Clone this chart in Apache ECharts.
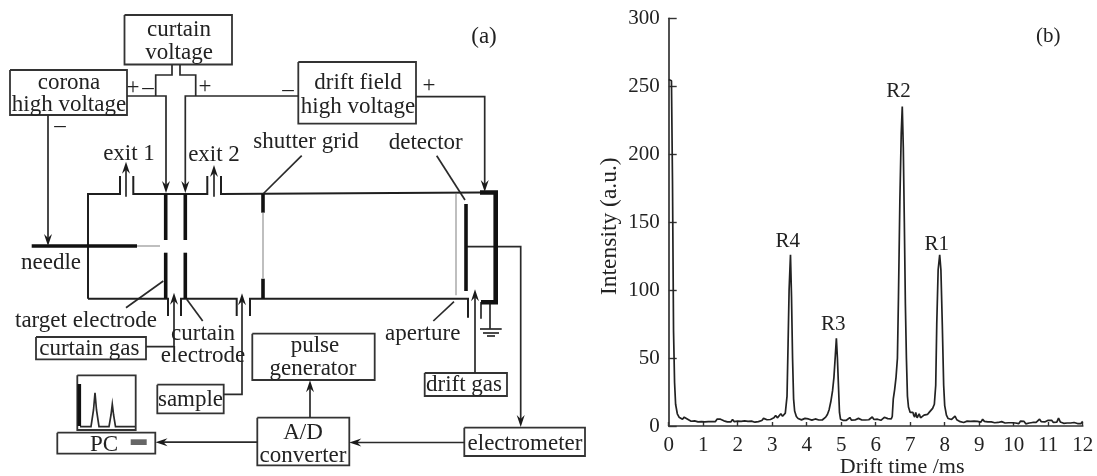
<!DOCTYPE html>
<html><head><meta charset="utf-8">
<style>html,body{margin:0;padding:0;background:#fff}#c{width:1097px;height:476px}</style>
<script src="https://cdn.jsdelivr.net/npm/echarts@6/dist/echarts.min.js"></script>
</head><body><div id="c"></div>
<script>
// ---- panel (b): spectrum readings [drift time ms, intensity a.u.]
const gatePulse=[[0,255],[0.02,256],[0.08,254],[0.11,180],[0.14,70],[0.17,32],[0.2,16],[0.25,9],[0.3,6.5],[0.35,5.5],[0.4,5],[0.45,6.5],[0.5,5.2]];
const baselineA=[[0.55,5],[0.6,4],[0.65,3.5],[0.7,3.2],[0.75,3.8],[0.8,3.6],[0.85,3],[0.9,4],[0.95,3.2],[1,3.3],[1.05,3],[1.1,3.8],[1.15,3.2],[1.2,3],[1.25,3.3],[1.3,3.6],[1.35,3.2],[1.4,5],[1.45,4.2],[1.5,5],[1.55,4.2],[1.6,3.8],[1.65,3.5],[1.7,3],[1.75,2.8],[1.8,3],[1.85,4.8],[1.9,3.2],[1.95,2.4],[2,3.6],[2.05,4.2],[2.1,3.4],[2.15,3],[2.2,3.8],[2.25,3.2],[2.3,3.4],[2.35,3.2],[2.4,3.6],[2.45,3],[2.5,2.8],[2.55,3.6],[2.6,3.2],[2.65,4.2],[2.7,4],[2.75,5.6],[2.8,4.2],[2.85,4.6],[2.9,5],[2.95,4.8],[3,5.2],[3.05,6],[3.1,7.8],[3.15,6],[3.2,6.8],[3.25,9],[3.3,7.2],[3.35,8.5],[3.38,9.5],[3.41,9]];
const peakR4=[[3.43,22],[3.46,60],[3.49,100],[3.53,126],[3.56,95],[3.59,50],[3.62,20],[3.65,11],[3.7,7],[3.75,5.5]];
const baselineB=[[3.8,5],[3.85,4.5],[3.9,4.6],[3.95,5.6],[4,5.8],[4.05,5.2],[4.1,4.4],[4.15,4.3],[4.2,4.4],[4.25,5.2],[4.3,5],[4.35,4.4],[4.4,4.2],[4.45,4.4],[4.5,5]];
const peakR3=[[4.55,6.5],[4.6,8.5],[4.65,12],[4.7,18],[4.75,26],[4.79,36],[4.83,52],[4.86,64.5],[4.89,50],[4.92,30],[4.95,10],[4.98,5]];
const baselineC=[[5,4.5],[5.05,4.2],[5.1,4.5],[5.15,4.2],[5.2,4.6],[5.25,6.2],[5.3,4.3],[5.35,4.4],[5.4,4.4],[5.45,4.2],[5.5,5.6],[5.55,4.5],[5.6,4.4],[5.65,5.6],[5.7,4.4],[5.75,4.3],[5.8,4.6],[5.85,4.8],[5.9,6.6],[5.95,4.8],[6,4.2],[6.05,5],[6.1,4.4],[6.15,4.2],[6.2,5.6],[6.25,6.4],[6.3,5],[6.35,5.4],[6.4,5],[6.45,5.2]];
const peakR2=[[6.48,7],[6.51,20],[6.55,27],[6.59,36],[6.63,50],[6.66,95],[6.7,165],[6.74,215],[6.77,235],[6.8,205],[6.83,150],[6.86,90],[6.89,50],[6.92,22],[6.95,14]];
const valleyR2R1=[[7,10],[7.05,9],[7.08,10],[7.1,8],[7.13,6.5],[7.16,10],[7.2,6],[7.23,5.2],[7.26,9],[7.3,6],[7.35,5.5],[7.4,8],[7.45,9],[7.5,8.5],[7.55,10],[7.6,11],[7.65,13]];
const peakR1=[[7.7,16],[7.74,30],[7.77,75],[7.81,115],[7.855,126],[7.89,115],[7.93,75],[7.97,30],[8,15],[8.05,8]];
const tail=[[8.1,5.5],[8.15,5],[8.2,4.8],[8.25,4.6],[8.3,7.2],[8.35,4.6],[8.4,3.6],[8.45,3.2],[8.5,2.8],[8.55,2.6],[8.6,3],[8.65,3.6],[8.7,3.2],[8.75,3.4],[8.8,2.8],[8.85,3.6],[8.9,3],[8.95,3.4],[9,3.2],[9.05,2.8],[9.1,5],[9.15,3.4],[9.2,3.6],[9.25,3],[9.3,3.2],[9.35,3],[9.4,2.8],[9.45,2.4],[9.5,2.2],[9.55,2.6],[9.6,3.4],[9.65,3.2],[9.7,2.6],[9.75,2.2],[9.8,2],[9.85,2.4],[9.9,1.8],[9.95,2.4],[10,2.6],[10.05,2.2],[10.1,3],[10.15,1.8],[10.2,3.6],[10.25,2.2],[10.3,3.4],[10.35,1.6],[10.4,2.4],[10.45,2.2],[10.5,2.4],[10.55,2.6],[10.6,2.4],[10.65,2.6],[10.7,2.8],[10.75,5],[10.8,3.2],[10.85,2.8],[10.9,3],[10.95,3.2],[11,4.2],[11.05,4.6],[11.1,4.2],[11.15,2.6],[11.2,2.4],[11.25,2.8],[11.3,5.8],[11.35,3],[11.4,2.4],[11.45,2],[11.5,1.8],[11.55,2.2],[11.6,3.4],[11.65,2.2],[11.7,1.8],[11.75,2.6],[11.8,3.2],[11.85,1.8],[11.9,2.8],[11.95,1.8],[12,3.4]];
const xTicks=[0,1,2,3,4,5,6,7,8,9,10,11,12];
const yTicks=[0,50,100,150,200,250,300];
const peakNames=[['R4',3.45,137],['R3',4.77,76],['R2',6.66,247],['R1',7.77,135],['(b)',11,288]];

// ---- panel (a): schematic, in the diagram's own units
const boxes=[[124.5,15,232,64.5],[10,70,127,115],[298.3,62,416,123.7],[36,337,146,359.3],[157.3,384.7,223.7,413.3],[252.3,333.7,374.7,380],[257.3,417.7,349.3,465.3],[57.3,432.7,155.3,453.7],[77.3,375.3,135.7,430],[424.7,373,507,396],[464.3,427.7,585,456]];
const wires=[
 [[172,65],[172,75],[155.7,75],[155.7,96]],[[127,96],[166,96],[166,187]],
 [[180,65],[180,75],[195.7,75],[195.7,96]],[[298.3,96],[185.3,96],[185.3,187]],
 [[48,115],[48,240]],[[416,96.7],[484.7,96.7],[484.7,186]],
 [[146,346.7],[174,346.7],[174,298]],[[223.7,394.3],[242,394.3],[242,299]],
 [[126,196.7],[126,167]],[[214,196.7],[214,170]],
 [[466,246.7],[520.7,246.7],[520.7,421]],[[464.3,442.5],[355,442.5]],[[310,417.7],[310,386]],[[257.3,442.2],[161,442.2]],[[475,373],[475,295]],
 [[481,318.7],[481,302]],[[490,302],[490,329]],[[480,329],[501.7,329]],[[483,333],[499,333]],[[487,336],[495,336]],
 [[263,194],[301.7,155.7]],[[436.7,155.7],[465,200]],[[454,301.7],[433.3,321]],[[163.3,281],[126,307.7]],[[186.7,299.3],[202.7,321]],
 [[80,426.7],[91,426.7],[93.5,410],[95,392.7],[96.5,410],[99,426.7],[109,426.7],[111,415],[112.3,404.3],[113.6,415],[115.5,426.7],[135,426.7]]
];
const walls=[[[88,298.7],[88,194],[120,194],[120,176]],[[133.3,176],[133.3,194],[207.3,194],[207.3,176]],[[221,176],[221,194],[480,192.5]],
 [[88,298.7],[168,298.7],[168,316]],[[181,316],[181,298.7],[236.7,298.7],[236.7,316]],[[250,316],[250,298.7],[468,298.7],[468,317.7]]];
const heavy=[[[31.7,246],[137,246]],[[165.7,194],[165.7,240]],[[165.7,252.7],[165.7,298.7]],[[185.3,194],[185.3,240]],[[185.3,252.7],[185.3,298.7]],[[263,194],[263,212.7]],[[263,278.7],[263,298.7]],[[466,204],[466,291]],[[79.3,384],[79.3,426]]];
const outerWall=[[[480,192.5],[495.7,192.5],[495.7,302.2],[481,302.2]]];
const faint=[[[137,246],[160,246]],[[263,212.7],[263,278.7]],[[456,194],[456,295.3]]];
const arrowTips=[[166,193,'d'],[185.3,193,'d'],[48,246,'d'],[484.7,192,'d'],[174,292.7,'u'],[242,293.3,'u'],[126,161.7,'u'],[214,165,'u'],[520.7,427,'d'],[349.3,442.5,'l'],[310,380.3,'u'],[155.5,442.2,'l'],[475,289.3,'u']];
const pcButton=[[130.7,439.3],[146.7,439.3],[146.7,445],[130.7,445]];
const diagramLabels=[['curtain',179,28],['voltage',179,51],['corona',69,81],['high voltage',69,103],['+',133,86],['–',148,86],['+',205,85],['–',288,88],['drift field',358,81],['high voltage',358,105],['+',429,84],['–',60,124],['exit 1',129,152],['exit 2',214,153],['shutter grid',306,140],['detector',425.7,141],['needle',51,261.7],['target electrode',86,319.3],['curtain gas',89.3,347],['curtain',203,332],['electrode',203,354],['sample',190.5,398.3],['pulse',315,344.3],['generator',313,367],['A/D',303,431],['converter',303,454],['PC',104,443],['aperture',422.7,332.7],['drift gas',464,383.3],['electrometer',525,442.7],['(a)',484,35]];

const trace=[].concat(gatePulse,baselineA,peakR4,baselineB,peakR3,baselineC,peakR2,valleyR2R1,peakR1,tail);
const INK='#222', SERIF='"Liberation Serif","DejaVu Serif",serif';
const arrowShape={d:[[0,0],[-4,-12],[0,-8],[4,-12]],u:[[0,0],[-4,12],[0,8],[4,12]],l:[[0,0],[12,-4],[8,0],[12,4]]};

const marks=[];
boxes.forEach(b=>marks.push({k:'line',pts:[[b[0],b[1]],[b[2],b[1]],[b[2],b[3]],[b[0],b[3]],[b[0],b[1]]],w:1.8,c:'#333'}));
wires.forEach(p=>marks.push({k:'line',pts:p,w:1.7,c:'#2a2a2a'}));
walls.forEach(p=>marks.push({k:'line',pts:p,w:2,c:'#1f1f1f'}));
heavy.forEach(p=>marks.push({k:'line',pts:p,w:3.6,c:'#111'}));
outerWall.forEach(p=>marks.push({k:'line',pts:p,w:4.6,c:'#111'}));
faint.forEach(p=>marks.push({k:'line',pts:p,w:1.5,c:'#aaa'}));
arrowTips.forEach(a=>marks.push({k:'fill',pts:arrowShape[a[2]].map(o=>[a[0]+o[0],a[1]+o[1]]),c:'#1a1a1a'}));
marks.push({k:'fill',pts:pcButton,c:'#666'});
diagramLabels.forEach(l=>marks.push({k:'text',t:l[0],pts:[[l[1],l[2]]],f:23}));

function drawMark(m,api){
  const pts=m.pts.map(p=>api.coord(p));
  if(m.k==='line')return{type:'polyline',shape:{points:pts},style:{fill:null,stroke:m.c,lineWidth:m.w,lineJoin:'miter'}};
  if(m.k==='fill')return{type:'polygon',shape:{points:pts},style:{fill:m.c}};
  return{type:'text',style:{text:m.t,x:pts[0][0],y:pts[0][1]+1.5,fill:INK,align:'center',verticalAlign:'middle',font:m.f+'px '+SERIF}};
}
const peakMarks=peakNames.map(l=>({k:'text',t:l[0],pts:[[l[1],l[2]]],f:21}));

const chart=echarts.init(document.getElementById('c'),null,{renderer:'canvas'});
chart.setOption({
  animation:false,backgroundColor:'#fff',
  grid:[{left:668.7,top:18.3,width:414,height:407.7,outerBoundsMode:'none'},{left:0,top:0,width:1097,height:476,outerBoundsMode:'none'}],
  xAxis:[
    {type:'value',gridIndex:0,min:0,max:12,interval:1,name:'Drift time /ms',nameLocation:'middle',nameGap:30,nameMoveOverlap:false,
     nameTextStyle:{fontFamily:SERIF,fontSize:22,color:INK,padding:[0,0,0,53]},
     axisLine:{show:true,onZero:false,lineStyle:{color:'#333',width:1.7}},
     axisTick:{show:true,inside:true,length:4,lineStyle:{color:'#333',width:1.4}},splitLine:{show:false},
     axisLabel:{margin:9,fontFamily:SERIF,fontSize:21,color:INK,showMinLabel:true,showMaxLabel:true,hideOverlap:false,customValues:xTicks}},
    {type:'value',gridIndex:1,min:0,max:1097,show:false}
  ],
  yAxis:[
    {type:'value',gridIndex:0,min:0,max:300,interval:50,name:'Intensity (a.u.)',nameLocation:'middle',nameGap:47,nameMoveOverlap:false,
     nameTextStyle:{fontFamily:SERIF,fontSize:23.5,color:INK,padding:[0,8,0,0]},
     axisLine:{show:true,lineStyle:{color:'#333',width:1.7}},
     axisTick:{show:true,inside:true,length:8,lineStyle:{color:'#333',width:1.4}},splitLine:{show:false},
     axisLabel:{margin:9,fontFamily:SERIF,fontSize:21,color:INK,customValues:yTicks}},
    {type:'value',gridIndex:1,min:0,max:476,inverse:true,show:false}
  ],
  series:[
    {type:'line',xAxisIndex:0,yAxisIndex:0,data:trace,showSymbol:false,symbol:'none',smooth:false,clip:false,silent:true,
     lineStyle:{color:'#222',width:1.7}},
    {type:'custom',xAxisIndex:0,yAxisIndex:0,clip:false,silent:true,data:peakMarks.map(m=>m.pts[0]),
     renderItem:(p,api)=>drawMark(peakMarks[p.dataIndex],api)},
    {type:'custom',xAxisIndex:1,yAxisIndex:1,clip:false,silent:true,data:marks.map(m=>m.pts[0]),
     renderItem:(p,api)=>drawMark(marks[p.dataIndex],api)}
  ]
});
</script></body></html>
